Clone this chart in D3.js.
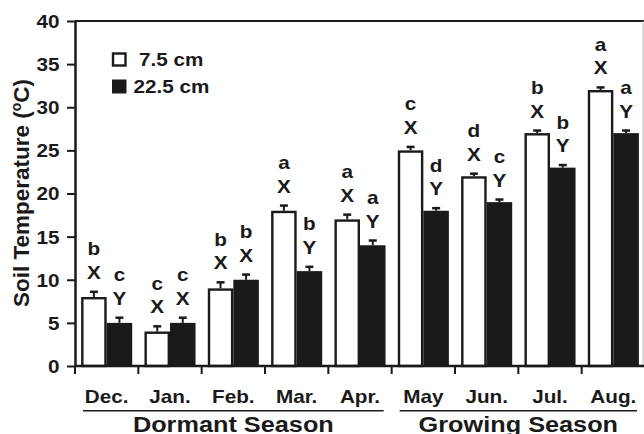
<!DOCTYPE html>
<html>
<head>
<meta charset="utf-8">
<script src="https://cdn.jsdelivr.net/npm/d3@7"></script>
<style>
  body { margin: 0; background: #fff; }
  text { font-family: "Liberation Sans", Arial, Helvetica, sans-serif; font-weight: bold; fill: #1a1a1a; }
</style>
</head>
<body>
<script>
// 数据
var months = ["Dec.", "Jan.", "Feb.", "Mar.", "Apr.", "May", "Jun.", "Jul.", "Aug."];
var depths = ["7.5 cm", "22.5 cm"];
var shallow = [8, 4, 9, 18, 17, 25, 22, 27, 32];
var deep = [5, 5, 10, 11, 14, 18, 19, 23, 27];
var shallowErr = [0.6, 0.6, 0.7, 0.6, 0.55, 0.4, 0.3, 0.3, 0.3];
var deepErr = [0.6, 0.6, 0.6, 0.5, 0.55, 0.3, 0.3, 0.3, 0.3];
var shallowMonthLetter = ["b", "c", "b", "a", "a", "c", "d", "b", "a"];
var deepMonthLetter = ["c", "c", "b", "b", "a", "d", "c", "b", "a"];
var shallowDepthLetter = ["X", "X", "X", "X", "X", "X", "X", "X", "X"];
var deepDepthLetter = ["Y", "X", "X", "Y", "Y", "Y", "Y", "Y", "Y"];
var seasons = [
    { name: "Dormant Season", from: "Dec.", to: "Apr." },
    { name: "Growing Season", from: "May", to: "Aug." }
];
var yTicks = [0, 5, 10, 15, 20, 25, 30, 35, 40];

// 边距
var margin = { top: 21, right: -1, bottom: 68, left: 75 },
    totalW = 644, totalH = 434,
    width = totalW - margin.left - margin.right,
    height = totalH - margin.top - margin.bottom;

var SX = 1.15; // 原图文字横向偏宽

var x0 = d3.scaleBand().domain(months).range([0, width]).paddingInner(0).paddingOuter(0);
var x1 = d3.scaleBand().domain([0, 1]).range([0, x0.bandwidth()]).paddingInner(0).paddingOuter(0.24);
var y = d3.scaleLinear().domain([0, 40]).range([height, 0]);

var rows = months.map(function (m, i) {
    return {
        month: m,
        bars: [
            { k: 0, v: shallow[i], e: shallowErr[i], l1: shallowMonthLetter[i], l2: shallowDepthLetter[i] },
            { k: 1, v: deep[i], e: deepErr[i], l1: deepMonthLetter[i], l2: deepDepthLetter[i] }
        ]
    };
});

var svg = d3.select("body").append("svg")
    .attr("width", totalW)
    .attr("height", totalH);

var chart = svg.append("g")
    .attr("transform", "translate(" + margin.left + "," + margin.top + ")");

// 外框（上、右）
chart.append("line")
    .attr("x1", 0).attr("x2", width).attr("y1", 0).attr("y2", 0)
    .attr("stroke", "#1a1a1a").attr("stroke-width", 2);
chart.append("line")
    .attr("x1", width - 2).attr("x2", width - 2).attr("y1", 0).attr("y2", height)
    .attr("stroke", "#bbb").attr("stroke-width", 1);

// 柱子
var groups = chart.selectAll(".month")
    .data(rows)
    .enter().append("g")
    .attr("class", "month")
    .attr("transform", function (d) { return "translate(" + x0(d.month) + ",0)"; });

var bar = groups.selectAll(".bar")
    .data(function (d) { return d.bars; })
    .enter().append("g")
    .attr("class", "bar");

// 误差线
bar.append("line")
    .attr("x1", function (d) { return x1(d.k) + x1.bandwidth() / 2; })
    .attr("x2", function (d) { return x1(d.k) + x1.bandwidth() / 2; })
    .attr("y1", function (d) { return y(d.v); })
    .attr("y2", function (d) { return y(d.v + d.e); })
    .attr("stroke", "#1a1a1a").attr("stroke-width", 2);
bar.append("line")
    .attr("x1", function (d) { return x1(d.k) + x1.bandwidth() / 2 - 4; })
    .attr("x2", function (d) { return x1(d.k) + x1.bandwidth() / 2 + 4; })
    .attr("y1", function (d) { return y(d.v + d.e); })
    .attr("y2", function (d) { return y(d.v + d.e); })
    .attr("stroke", "#1a1a1a").attr("stroke-width", 2.5);

bar.append("rect")
    .attr("x", function (d) { return x1(d.k) + (d.k === 0 ? 1.2 : 0); })
    .attr("y", function (d) { return y(d.v) + (d.k === 0 ? 1.2 : 0); })
    .attr("width", function (d) { return x1.bandwidth() - (d.k === 0 ? 2.4 : 0); })
    .attr("height", function (d) { return height - y(d.v) - (d.k === 0 ? 1.2 : 0); })
    .attr("fill", function (d) { return d.k === 0 ? "#fff" : "#1a1a1a"; })
    .attr("stroke", "#1a1a1a")
    .attr("stroke-width", function (d) { return d.k === 0 ? 2.4 : 0; });

// 字母标注
function stretchText(sel, tx, ty) {
    sel.attr("x", 0).attr("y", 0)
        .attr("transform", function (d, i) {
            return "translate(" + tx(d, i) + "," + ty(d, i) + ") scale(" + SX + ",1)";
        });
}

bar.append("text")
    .attr("text-anchor", "middle")
    .attr("font-size", "18px")
    .text(function (d) { return d.l2; })
    .call(stretchText,
        function (d) { return x1(d.k) + x1.bandwidth() / 2; },
        function (d) { return y(d.v + d.e) - 13; });

bar.append("text")
    .attr("text-anchor", "middle")
    .attr("font-size", "18px")
    .text(function (d) { return d.l1; })
    .call(stretchText,
        function (d) { return x1(d.k) + x1.bandwidth() / 2; },
        function (d) { return y(d.v + d.e) - 36.5; });

// y轴
var yAxis = d3.axisLeft(y).tickValues(yTicks).tickSize(8).tickSizeOuter(0);
var gy = chart.append("g").attr("class", "y_axis").call(yAxis);
gy.select(".domain").attr("stroke", "#1a1a1a").attr("stroke-width", 2.5);
gy.selectAll(".tick line").attr("stroke", "#1a1a1a").attr("stroke-width", 2);
gy.selectAll(".tick text")
    .attr("x", 0).attr("dy", "0.36em")
    .attr("font-size", "18px")
    .attr("font-family", null)
    .attr("fill", "#1a1a1a")
    .attr("transform", "translate(-15.5,0) scale(" + SX + ",1)");

// x轴
var xAxis = d3.axisBottom(x0).tickSize(0).tickSizeOuter(0);
var gx = chart.append("g").attr("class", "x_axis")
    .attr("transform", "translate(0," + height + ")")
    .call(xAxis);
gx.select(".domain").attr("stroke", "#1a1a1a").attr("stroke-width", 2.5)
    .attr("d", "M0,0H" + width);
gx.selectAll(".tick text")
    .attr("y", 0).attr("dy", 0)
    .attr("font-size", "18px")
    .attr("font-family", null)
    .attr("fill", "#1a1a1a")
    .attr("transform", "translate(0,37.3) scale(" + SX + ",1)");

// 月份分隔刻度
var bounds = months.map(function (m) { return x0(m); }).concat([width]);
gx.selectAll(".sep")
    .data(bounds)
    .enter().append("line")
    .attr("class", "sep")
    .attr("x1", function (d) { return d; })
    .attr("x2", function (d) { return d; })
    .attr("y1", 0).attr("y2", 8)
    .attr("stroke", "#1a1a1a").attr("stroke-width", 2);

// 季节
var season = chart.selectAll(".season")
    .data(seasons)
    .enter().append("g")
    .attr("class", "season");

season.append("line")
    .attr("x1", function (d) { return x0(d.from) + 8; })
    .attr("x2", function (d) { return x0(d.to) + x0.bandwidth() - 8; })
    .attr("y1", height + 44.7).attr("y2", height + 44.7)
    .attr("stroke", "#1a1a1a").attr("stroke-width", 1.6);

season.append("text")
    .attr("text-anchor", "middle")
    .attr("font-size", "22px")
    .text(function (d) { return d.name; })
    .call(stretchText,
        function (d) { return (x0(d.from) + x0(d.to) + x0.bandwidth()) / 2; },
        function () { return height + 65.5; });

// y轴标题
var title = chart.append("text")
    .attr("text-anchor", "middle")
    .attr("font-size", "22.5px")
    .attr("transform", "translate(" + (29 - margin.left) + "," + (193 - margin.top) + ") rotate(-90)");
title.append("tspan").text("Soil Temperature (");
title.append("tspan").attr("font-size", "14px").attr("dy", -8).text("o");
title.append("tspan").attr("dy", 8).text("C)");

// 图例
var legend = chart.selectAll(".legend")
    .data(depths)
    .enter().append("g")
    .attr("class", "legend")
    .attr("transform", function (d, i) { return "translate(" + (112 - margin.left) + "," + (52.5 - margin.top + i * 27) + ")"; });

legend.append("rect")
    .attr("x", function (d, i) { return i === 0 ? 1 : 0; })
    .attr("y", function (d, i) { return i === 0 ? 1 : 0; })
    .attr("width", function (d, i) { return i === 0 ? 12.5 : 14.5; })
    .attr("height", function (d, i) { return i === 0 ? 12 : 14; })
    .attr("fill", function (d, i) { return i === 0 ? "#fff" : "#1a1a1a"; })
    .attr("stroke", "#1a1a1a")
    .attr("stroke-width", function (d, i) { return i === 0 ? 2.4 : 0; });

legend.append("text")
    .attr("font-size", "18px")
    .text(function (d) { return d; })
    .call(stretchText,
        function (d, i) { return i === 0 ? 27 : 21.5; },
        function () { return 13.5; });
</script>
</body>
</html>
